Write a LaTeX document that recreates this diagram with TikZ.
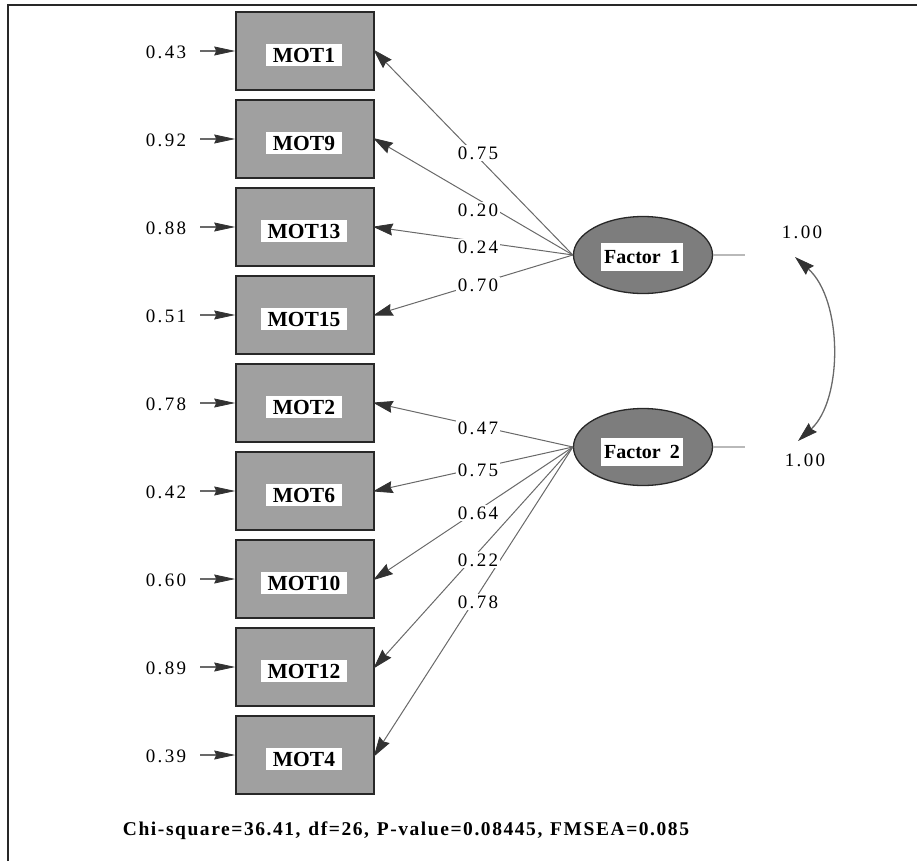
\documentclass[tikz,border=0pt]{standalone}
\usepackage{fontspec}
\setmainfont{Liberation Serif}
\usetikzlibrary{arrows.meta,shapes.geometric}
\definecolor{boxgray}{RGB}{160,160,160}
\definecolor{ellgray}{RGB}{125,125,125}
\definecolor{linegray}{RGB}{105,105,105}
\definecolor{headgray}{RGB}{50,50,50}
\definecolor{edgedark}{RGB}{40,40,40}
\definecolor{lightline}{RGB}{185,185,185}
\tikzset{
  obs/.style={draw=edgedark, line width=1.6pt, fill=boxgray, minimum width=138pt, minimum height=78pt, inner sep=0pt},
  lat/.style={ellipse, draw=edgedark, line width=1.3pt, fill=ellgray, minimum width=139pt, minimum height=77pt, inner sep=0pt},
  boxlab/.style={fill=white, inner xsep=7pt, inner ysep=4pt, font=\fontsize{21.5}{24}\selectfont\bfseries},
  faclab/.style={fill=white, inner xsep=3pt, inner ysep=7pt, font=\fontsize{20}{24}\selectfont\bfseries},
  numlab/.style={inner sep=1pt, font=\fontsize{19}{22}\selectfont\addfontfeature{LetterSpace=12}},
  plab/.style={numlab, fill=white, inner sep=2pt},
  errarr/.style={draw=linegray, line width=1.4pt, -{Stealth[length=21pt,width=9pt,inset=2pt,color=headgray,line width=0.8pt]}},
  load/.style={draw=linegray, line width=1pt, shorten >=-2pt, -{Stealth[length=20pt,width=12pt,inset=2pt,color=headgray,line width=0.8pt]}},
  cov/.style={draw=linegray, line width=1.3pt, {Stealth[length=20pt,width=12pt,inset=2pt,color=headgray,line width=0.8pt]}-{Stealth[length=20pt,width=12pt,inset=2pt,color=headgray,line width=0.8pt]}},
  lightl/.style={draw=lightline, line width=1.3pt}
}
\begin{document}
\begin{tikzpicture}[x=1pt,y=-1pt]
\useasboundingbox (0,0) rectangle (917,861);
\draw[line width=2pt, edgedark] (8,861) -- (8,5) -- (917,5);

% observed boxes
\foreach \n/\t/\v/\yy in {1/MOT1/0.43/51, 2/MOT9/0.92/139, 3/MOT13/0.88/227, 4/MOT15/0.51/315,
  5/MOT2/0.78/403, 6/MOT6/0.42/491, 7/MOT10/0.60/579, 8/MOT12/0.89/667, 9/MOT4/0.39/755}{
  \node[obs] (m\n) at (305,\yy) {};
  \node[boxlab] (m\n t) at (304,\yy+4) {\t};
  \node[numlab] (e\n) at (166,\yy+1) {\v};
  \coordinate (e\n s) at (200,\yy);
  \draw[errarr] (e\n s) -- (m\n.west);
}

% latent factors
\node[lat] (f1) at (643,255) {};
\node[faclab] (f1t) at (642,257) {Factor\hspace{0.45em}1};
\node[lat] (f2) at (643,447) {};
\node[faclab] (f2t) at (642,452) {Factor\hspace{0.45em}2};

% loadings
\foreach \n in {1,2,3,4}{ \draw[load] (f1.west) -- (m\n.east); }
\foreach \n in {5,6,7,8,9}{ \draw[load] (f2.west) -- (m\n.east); }

% loading labels
\node[plab] (l1) at (478,153) {0.75};
\node[plab] (l2) at (478,210) {0.20};
\node[plab] (l3) at (478,247) {0.24};
\node[plab] (l4) at (478,285) {0.70};
\node[plab] (l5) at (478,428) {0.47};
\node[plab] (l6) at (478,470) {0.75};
\node[plab] (l7) at (478,513) {0.64};
\node[plab] (l8) at (478,560) {0.22};
\node[plab] (l9) at (478,602) {0.78};

% variances of factors
\coordinate (v1) at (745,255);
\coordinate (v2) at (745,447);
\draw[lightl] (f1.east) -- (v1);
\draw[lightl] (f2.east) -- (v2);
\node[numlab] (v1t) at (802,232) {1.00};
\node[numlab] (v2t) at (805,460) {1.00};

% covariance
\coordinate (c1) at (795,257);
\coordinate (c2) at (798,441);
\draw[cov] (c1) .. controls (843,300) and (843,400) .. (c2);

% fit statistics
\node[inner sep=0pt, font=\fontsize{19.5}{22}\selectfont\bfseries\addfontfeature{LetterSpace=8}] (fit) at (406,831) {Chi-square=36.41,\hspace{0.4em}df=26,\hspace{0.4em}P-value=0.08445,\hspace{0.4em}FMSEA=0.085};
\end{tikzpicture}
\end{document}
